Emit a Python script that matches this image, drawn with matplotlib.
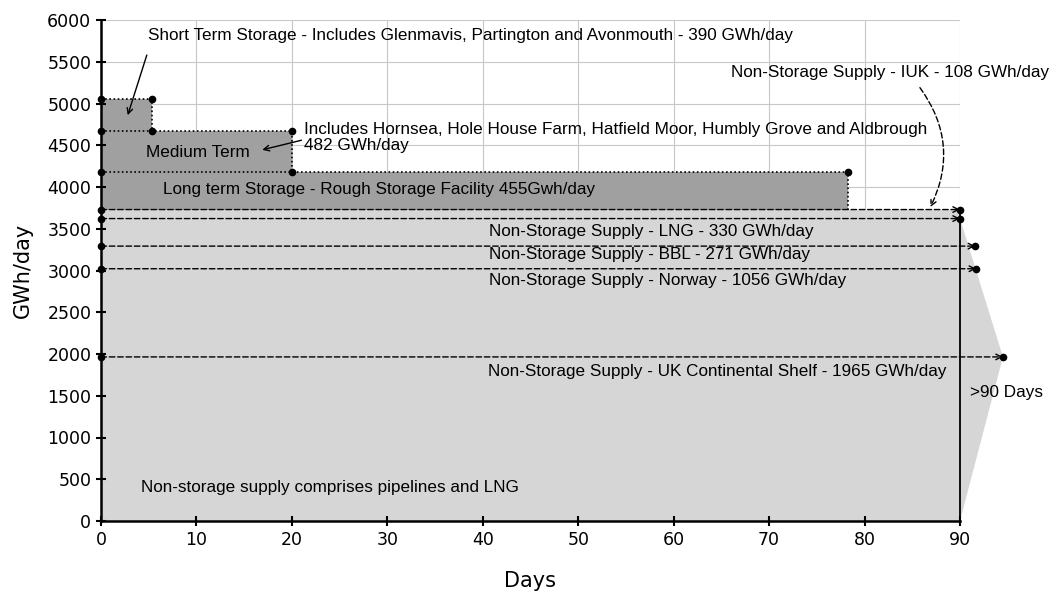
import matplotlib
matplotlib.use("Agg")
import matplotlib.pyplot as plt
from matplotlib.patches import Polygon, Rectangle

# ---- data ----
ukcs = 1965
norway = 1056
bbl = 271
lng = 330
iuk = 108
long_term = 455
medium_term = 482
short_term = 390

long_days = 78.3
medium_days = 20
short_days = 5.3
horizon_days = 90

supply_levels = [ukcs, ukcs + norway, ukcs + norway + bbl,
                 ukcs + norway + bbl + lng, ukcs + norway + bbl + lng + iuk]
supply_line_end = [94.5, 91.7, 91.6, 90, 90]

base = supply_levels[-1]
lt_top = base + long_term
mt_top = lt_top + medium_term
st_top = mt_top + short_term

xticks = list(range(0, 91, 10))
yticks = list(range(0, 6001, 500))

plt.rcParams['font.family'] = ['Liberation Sans', 'DejaVu Sans']

fig = plt.figure(figsize=(10.56, 5.93), dpi=100)
ax = fig.add_axes([101/1056, 1 - 521/593, (960-101)/1056, (521-20)/593])
ax.set_xlim(0, 90)
ax.set_ylim(0, 6000)

dark = '#a0a0a0'
light = '#d6d6d6'

# grid
for x in xticks:
    ax.axvline(x, color='#c8c8c8', lw=0.8, zorder=0)
for y in yticks:
    ax.axhline(y, color='#c8c8c8', lw=0.8, zorder=0)

# non-storage area with arrow
ax.add_patch(Rectangle((0, 0), horizon_days, base, facecolor=light, edgecolor='none', zorder=1, clip_on=False))
ax.add_patch(Polygon([(horizon_days, supply_levels[3]), (supply_line_end[0], ukcs), (horizon_days, 0)],
                     closed=True, facecolor=light, edgecolor='none', zorder=1, clip_on=False))

# storage
ax.add_patch(Rectangle((0, base), long_days, long_term, facecolor=dark, edgecolor='none', zorder=1))
ax.add_patch(Rectangle((0, lt_top), medium_days, medium_term, facecolor=dark, edgecolor='none', zorder=1))
ax.add_patch(Rectangle((0, mt_top), short_days, short_term, facecolor=dark, edgecolor='none', zorder=1))

dot = dict(color='black', lw=1.2, ls=(0, (1, 1.5)), zorder=3, clip_on=False)
ax.plot([0, short_days, short_days], [st_top, st_top, mt_top], **dot)
ax.plot([0, medium_days, medium_days], [mt_top, mt_top, lt_top], **dot)
ax.plot([0, long_days, long_days], [lt_top, lt_top, base], **dot)
mk = dict(marker='o', ms=4.5, color='black', ls='none', zorder=5, clip_on=False)
ax.plot([0, short_days, short_days, 0, medium_days, medium_days, 0, long_days],
        [st_top, st_top, mt_top, mt_top, mt_top, lt_top, lt_top, lt_top], **mk)

# dashed supply lines
for lvl, xe in zip(supply_levels, supply_line_end):
    ax.annotate('', xy=(xe, lvl), xytext=(0, lvl),
                arrowprops=dict(arrowstyle='->', color='black', lw=1.0, ls=(0, (4, 2)),
                                shrinkA=0, shrinkB=0, mutation_scale=10),
                zorder=4, annotation_clip=False)
    ax.plot([0, xe], [lvl, lvl], **mk)

# vertical line at 90
ax.plot([horizon_days, horizon_days], [0, base], color='black', lw=1.3, zorder=4, clip_on=False)

fs = 12.3
ax.text(4.9, 5820, 'Short Term Storage - Includes Glenmavis, Partington and Avonmouth - 390 GWh/day',
        fontsize=fs, va='center', ha='left', zorder=6)
ax.annotate('', xy=(2.8, 4860), xytext=(4.8, 5580),
            arrowprops=dict(arrowstyle='->', color='black', lw=1.0, shrinkA=0, shrinkB=0), zorder=6)
ax.text(4.7, 4419, 'Medium Term', fontsize=fs, va='center', ha='left', zorder=6)
ax.text(21.3, 4590, 'Includes Hornsea, Hole House Farm, Hatfield Moor, Humbly Grove and Aldbrough\n482 GWh/day',
        fontsize=fs, va='center', ha='left', zorder=6, linespacing=1.12)
ax.annotate('', xy=(16.9, 4445), xytext=(21.0, 4560),
            arrowprops=dict(arrowstyle='->', color='black', lw=1.0, shrinkA=0, shrinkB=0), zorder=6)
ax.text(6.5, 3976, 'Long term Storage - Rough Storage Facility 455Gwh/day', fontsize=fs, va='center', ha='left', zorder=6)
ax.text(99.3, 5377, 'Non-Storage Supply - IUK - 108 GWh/day', fontsize=fs, va='center', ha='right', zorder=6, clip_on=False)
ax.annotate('', xy=(86.9, 3760), xytext=(85.8, 5190),
            arrowprops=dict(arrowstyle='->', color='black', lw=1.0, ls=(0, (4, 2)),
                            connectionstyle='arc3,rad=-0.3', shrinkA=0, shrinkB=0),
            zorder=6, annotation_clip=False)
ax.text(40.7, 3473, 'Non-Storage Supply - LNG - 330 GWh/day', fontsize=fs, va='center', ha='left', zorder=6)
ax.text(40.7, 3186, 'Non-Storage Supply - BBL - 271 GWh/day', fontsize=fs, va='center', ha='left', zorder=6)
ax.text(40.7, 2886, 'Non-Storage Supply - Norway - 1056 GWh/day', fontsize=fs, va='center', ha='left', zorder=6)
ax.text(40.5, 1796, 'Non-Storage Supply - UK Continental Shelf - 1965 GWh/day', fontsize=fs, va='center', ha='left', zorder=6)
ax.text(91.1, 1533, '>90 Days', fontsize=fs, va='center', ha='left', zorder=6, clip_on=False)
ax.text(4.2, 407, 'Non-storage supply comprises pipelines and LNG', fontsize=fs, va='center', ha='left', zorder=6)

# axes styling
for s in ['top', 'right']:
    ax.spines[s].set_visible(False)
for s in ['left', 'bottom']:
    ax.spines[s].set_linewidth(1.8)
    ax.spines[s].set_zorder(7)
ax.set_xticks(xticks)
ax.set_yticks(yticks)
ax.tick_params(direction='inout', length=7, width=1.5, labelsize=12.5)
for lab in ax.get_xticklabels() + ax.get_yticklabels():
    lab.set_family('DejaVu Sans')
ax.set_xlabel('Days', fontsize=15, labelpad=16, family='DejaVu Sans')
ax.set_ylabel('GWh/day', fontsize=15, labelpad=10, family='DejaVu Sans')

fig.savefig('out.png', dpi=100)
